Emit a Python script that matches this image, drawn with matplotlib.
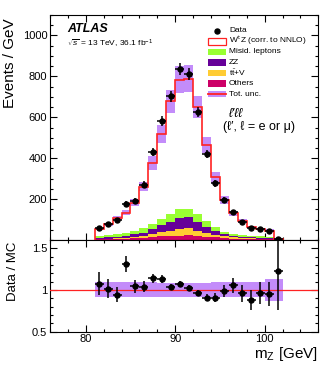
import numpy as np
import matplotlib
matplotlib.use('Agg')
import matplotlib.pyplot as plt
from matplotlib.patches import Rectangle
from matplotlib.lines import Line2D
from matplotlib.ticker import MultipleLocator, FixedLocator

plt.rcParams['font.family'] = ['Liberation Sans', 'DejaVu Sans']
plt.rcParams['mathtext.fontset'] = 'custom'
plt.rcParams['mathtext.rm'] = 'Liberation Sans'
plt.rcParams['mathtext.it'] = 'Liberation Sans:italic'
plt.rcParams['mathtext.bf'] = 'Liberation Sans:bold'

# ---------------- data ----------------
bin_edges = [81, 82, 83, 84, 85, 86, 87, 88, 89, 90, 91, 92, 93, 94, 95,
             96, 97, 98, 99, 100, 101, 102]
data_counts = [59, 78, 100, 176, 190, 271, 429, 582, 702, 838, 810, 624,
               420, 278, 194, 137, 90, 57, 52, 44, 7]
others = [3, 3, 4, 5, 8, 10, 15, 18, 20, 21, 23, 20, 16, 13, 10, 7, 5, 4, 4, 3, 1]
ttv = [3, 4, 4, 5, 7, 10, 13, 20, 24, 33, 34, 26, 20, 13, 8, 6, 5, 4, 3, 3, 1]
zz = [5, 6, 7, 9, 13, 16, 24, 35, 46, 52, 54, 44, 29, 20, 11, 8, 6, 5, 5, 4, 1]
misid = [10, 11, 14, 14, 16, 21, 25, 30, 36, 44, 41, 36, 28, 16, 12, 8, 7, 7, 6, 6, 1]
wz = [34, 53, 77, 101, 138, 204, 299, 413, 552, 634, 637, 524, 371, 245,
      155, 101, 71, 45, 36, 30, 1.7]
rel_unc = [0.09, 0.09, 0.09, 0.09, 0.09, 0.09, 0.09, 0.085, 0.085, 0.085,
           0.085, 0.085, 0.085, 0.09, 0.09, 0.09, 0.09, 0.09, 0.09, 0.13, 0.13]

legend_labels = ['Data', r'W$^{\pm}$Z (corr. to NNLO)', 'Misid. leptons', 'ZZ',
                 r'$\mathrm{t\bar{t}}$+V', 'Others', 'Tot. unc.']

C_OTH = '#cc0066'
C_TTV = '#ffcc33'
C_ZZ = '#660099'
C_MIS = '#99ff33'
C_BAND = '#c38cfa'
C_RED = '#ff2222'

# ---------------- figure ----------------
W, H = 332, 370
fig = plt.figure(figsize=(W / 100, H / 100), dpi=100)


def fx(px):
    return px / W


def fy(py):
    return 1 - py / H


ax = fig.add_axes([fx(50), fy(240), 268.3 / W, 225 / H])
axr = fig.add_axes([fx(50), fy(331.5), 268.3 / W, 91.5 / H])

edges = np.array(bin_edges, float)
centers = 0.5 * (edges[:-1] + edges[1:])
halfw = 0.5 * (edges[1:] - edges[:-1])
data = np.array(data_counts, float)
unc = np.array(rel_unc)

base = np.zeros(len(centers))
for vals, col in [(others, C_OTH), (ttv, C_TTV), (zz, C_ZZ), (misid, C_MIS)]:
    top = base + np.array(vals, float)
    ax.stairs(top, edges, baseline=base, fill=True, color=col, lw=0, zorder=2)
    base = top
total = base + np.array(wz, float)

ax.stairs(total * (1 + unc), edges, baseline=total * (1 - unc), fill=True,
          color=C_BAND, lw=0, zorder=3)
ax.stairs(total, edges, baseline=0, color=C_RED, lw=1.2, zorder=4)
ax.errorbar(centers, data, yerr=np.sqrt(data), xerr=halfw, fmt='o', color='k',
            ms=3.6, elinewidth=1.1, capsize=0, zorder=5)

ratio = data / total
ratio_err = np.sqrt(data) / total
axr.stairs(1 + unc, edges, baseline=1 - unc, fill=True, color=C_BAND, lw=0, zorder=2)
axr.axhline(1, color=C_RED, lw=0.9, zorder=3)
axr.errorbar(centers, ratio, yerr=ratio_err, xerr=halfw, fmt='o', color='k',
             ms=3.6, elinewidth=1.1, capsize=0, zorder=5)

for a in (ax, axr):
    a.set_xlim(76, 106)
    a.tick_params(which='both', direction='in', top=True, right=True,
                  labelsize=8, pad=2)
    a.tick_params(which='major', length=5, width=0.8)
    a.tick_params(which='minor', length=2.5, width=0.8)
    a.xaxis.set_major_locator(MultipleLocator(10))
    a.xaxis.set_minor_locator(MultipleLocator(2))
    for s in a.spines.values():
        s.set_linewidth(0.8)

ax.set_ylim(0, 1100)
ax.yaxis.set_major_locator(FixedLocator([200, 400, 600, 800, 1000]))
ax.yaxis.set_minor_locator(MultipleLocator(50))
ax.tick_params(labelbottom=False)

axr.set_ylim(0.5, 1.6)
axr.set_yticks([0.5, 1, 1.5])
axr.set_yticklabels(['0.5', '1', '1.5'])
axr.yaxis.set_minor_locator(MultipleLocator(0.1))
axr.tick_params(axis='x', pad=1.5)

# axis labels
fig.text(fx(10.5), fy(18), 'Events / GeV', rotation=90, ha='center', va='top', size=11)
fig.text(fx(13.3), fy(241.5), 'Data / MC', rotation=90, ha='center', va='top', size=9.5)
fig.text(fx(318.3), fy(358), r'm$_{\mathrm{Z}}$ [GeV]', ha='right', va='baseline', size=11)

# ATLAS label
fig.text(fx(67.5), fy(29), 'ATLAS', weight='bold', style='italic', size=9, va='center')
fig.text(fx(67), fy(44), r'$\sqrt{s}$ = 13 TeV, 36.1 fb$^{-1}$', size=6, va='center')

# channel annotation
fig.text(fx(228), fy(114), "ℓ′ℓℓ", style='italic', size=9, va='center')
fig.text(fx(223), fy(127.5), "(ℓ′, ℓ = e or μ)", size=9, va='center')

# manual legend
y0, dy = 30.7, 10.55
bx0, bx1, bh = 207.5, 226.0, 6.5
for i, lab in enumerate(legend_labels):
    yc = y0 + i * dy
    fig.text(fx(229), fy(yc), lab, size=6, va='center')
    if i == 0:
        fig.add_artist(Line2D([fx((bx0 + bx1) / 2)], [fy(yc)], marker='o', ms=3.6,
                              color='k', transform=fig.transFigure))
        continue
    if i == 1:
        fc, ec = 'white', C_RED
    elif i == 6:
        fc, ec = C_BAND, 'none'
    else:
        fc = [None, None, C_MIS, C_ZZ, C_TTV, C_OTH][i]
        ec = 'none'
    fig.add_artist(Rectangle((fx(bx0), fy(yc + bh / 2)), (bx1 - bx0) / W, bh / H,
                             facecolor=fc, edgecolor=ec, lw=0.9,
                             transform=fig.transFigure))
    if i == 6:
        fig.add_artist(Line2D([fx(bx0), fx(bx1)], [fy(yc), fy(yc)], color=C_RED,
                              lw=1.3, transform=fig.transFigure))

fig.savefig('out.png', dpi=100)
